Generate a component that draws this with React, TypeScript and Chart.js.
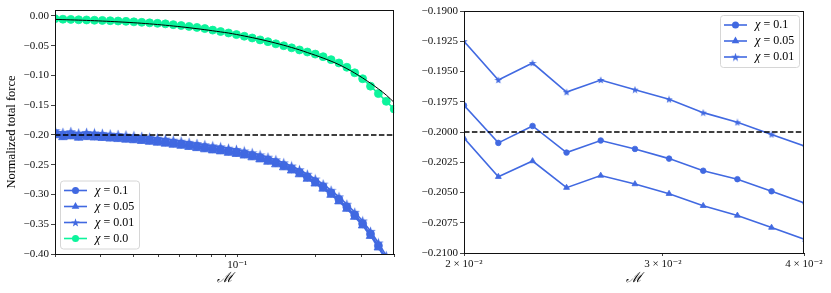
import React, { useEffect, useRef } from "react";
import { Chart, registerables } from "chart.js";
Chart.register(...registerables);

// ---------- data ----------
const M = [
  0.02, 0.02145, 0.023, 0.02465, 0.02643, 0.02834, 0.03038, 0.03257, 0.03492, 0.03744,
  0.04014, 0.04303, 0.04614, 0.04946, 0.05303, 0.05685, 0.06095, 0.06535, 0.07006, 0.07511,
  0.08053, 0.08633, 0.09261, 0.09929, 0.10645, 0.11412, 0.12235, 0.13117, 0.14063, 0.15077,
  0.16164, 0.17329, 0.18579, 0.19919, 0.21355, 0.2291, 0.2456, 0.2633, 0.2823, 0.3027,
  0.3245, 0.3479, 0.373, 0.4,
];

const chi01 = [
  -0.1978, -0.2009, -0.1995, -0.2017, -0.2007, -0.2014, -0.2022, -0.2032, -0.2039, -0.2049,
  -0.2059, -0.2071, -0.2085, -0.21, -0.2116, -0.2134, -0.2152, -0.2171, -0.2191, -0.2211,
  -0.223, -0.2246, -0.227, -0.2289, -0.2316, -0.2346, -0.2381, -0.242, -0.2464, -0.2514,
  -0.2568, -0.2631, -0.2706, -0.2786, -0.2872, -0.2976, -0.3086, -0.3211, -0.3346, -0.3491,
  -0.3666, -0.3861, -0.4076, -0.4306,
];

const chi005 = [
  -0.2005, -0.2037, -0.2024, -0.2046, -0.2036, -0.2043, -0.2051, -0.2061, -0.2069, -0.2079,
  -0.2089, -0.2101, -0.2115, -0.213, -0.2146, -0.2164, -0.2182, -0.2201, -0.2221, -0.2241,
  -0.226, -0.2276, -0.23, -0.2319, -0.2346, -0.2376, -0.2411, -0.245, -0.2494, -0.2544,
  -0.2598, -0.2661, -0.2736, -0.2816, -0.2902, -0.3006, -0.3116, -0.3241, -0.3376, -0.3521,
  -0.3696, -0.3891, -0.4106, -0.4336,
];

const chi001 = [
  -0.1925, -0.1957, -0.1943, -0.1967, -0.1957, -0.1965, -0.1973, -0.1984, -0.1992, -0.2002,
  -0.2012, -0.2024, -0.2038, -0.2053, -0.2069, -0.2087, -0.2105, -0.2124, -0.2144, -0.2164,
  -0.2183, -0.2199, -0.2223, -0.2242, -0.2269, -0.2299, -0.2334, -0.2373, -0.2417, -0.2467,
  -0.2521, -0.2584, -0.2659, -0.2739, -0.2825, -0.2929, -0.3039, -0.3164, -0.3299, -0.3444,
  -0.3619, -0.3814, -0.4029, -0.4259,
];

const chi00 = [
  -0.0045, -0.0055, -0.0058, -0.0064, -0.0067, -0.0072, -0.0075, -0.008, -0.0085, -0.0091,
  -0.0099, -0.0107, -0.0116, -0.0124, -0.0133, -0.0146, -0.0161, -0.0176, -0.0193, -0.0212,
  -0.0238, -0.0262, -0.0286, -0.0313, -0.0341, -0.037, -0.0402, -0.0432, -0.0468, -0.05,
  -0.0536, -0.0571, -0.0606, -0.0641, -0.0684, -0.0734, -0.079, -0.0862, -0.0955, -0.1055,
  -0.118, -0.1305, -0.1435, -0.1565,
];

const theory = [
  -0.0058, -0.0062, -0.0066, -0.007, -0.0075, -0.008, -0.0086, -0.0092, -0.0099, -0.0106,
  -0.0114, -0.0123, -0.0133, -0.0144, -0.0156, -0.0169, -0.0183, -0.0198, -0.0214, -0.0231,
  -0.0249, -0.0268, -0.0287, -0.0311, -0.0337, -0.0364, -0.0393, -0.0424, -0.0457, -0.0492,
  -0.053, -0.057, -0.0615, -0.066, -0.0708, -0.076, -0.0818, -0.0885, -0.096, -0.1042,
  -0.113, -0.1225, -0.133, -0.1455,
];

const seriesChi = ["0.1", "0.05", "0.01", "0.0"];
const referenceForce = -0.2;

const leftXRange = [0.02, 0.4];
const leftYRange = [-0.4, 0.01];
const rightXRange = [0.02, 0.04];
const rightYRange = [-0.21, -0.19];

const leftXTicks = [0.02, 0.03, 0.04, 0.05, 0.06, 0.07, 0.08, 0.09, 0.1, 0.2, 0.3, 0.4];
const leftXLabels: Record<string, string> = { "0.1": "10⁻¹" };
const leftYTicks = [0, -0.05, -0.1, -0.15, -0.2, -0.25, -0.3, -0.35, -0.4];
const rightXTicks = [0.02, 0.03, 0.04];
const rightXLabels: Record<string, string> = { "0.02": "2 × 10⁻²", "0.03": "3 × 10⁻²", "0.04": "4 × 10⁻²" };
const rightYTicks = [-0.19, -0.1925, -0.195, -0.1975, -0.2, -0.2025, -0.205, -0.2075, -0.21];

// ---------- styling ----------
const BLUE = "#4169E1";
const GREEN = "#0CF49C";
const FONT = '"Liberation Serif", "DejaVu Serif", serif';

function makeStar(size: number, color: string): HTMLCanvasElement {
  const c = document.createElement("canvas");
  c.width = size;
  c.height = size;
  const g = c.getContext("2d")!;
  const cx = size / 2, cy = size / 2 + size * 0.04, R = size / 2, r = R * 0.4;
  g.beginPath();
  for (let i = 0; i < 10; i++) {
    const a = -Math.PI / 2 + (i * Math.PI) / 5;
    const rr = i % 2 === 0 ? R : r;
    g.lineTo(cx + rr * Math.cos(a), cy + rr * Math.sin(a));
  }
  g.closePath();
  g.fillStyle = color;
  g.fill();
  return c;
}

const fmtMinus = (v: number, d: number) => (v < -1e-12 ? "−" : "") + Math.abs(v).toFixed(d);

type LegendEntry = { chi: string; color: string; style: string | HTMLCanvasElement; r: number };

function drawMarker(ctx: CanvasRenderingContext2D, style: string | HTMLCanvasElement, x: number, y: number, r: number, color: string) {
  ctx.save();
  ctx.fillStyle = color;
  ctx.strokeStyle = color;
  if (typeof style !== "string") {
    ctx.drawImage(style, x - style.width / 2, y - style.height / 2);
  } else if (style === "triangle") {
    ctx.beginPath();
    let a = 0;
    for (let i = 0; i < 3; i++) {
      ctx.lineTo(x + Math.sin(a) * r, y - Math.cos(a) * r);
      a += (2 * Math.PI) / 3;
    }
    ctx.closePath();
    ctx.fill();
  } else {
    ctx.beginPath();
    ctx.arc(x, y, r, 0, Math.PI * 2);
    ctx.fill();
  }
  ctx.restore();
}

function legendPlugin(entries: LegendEntry[], corner: "lowerleft" | "upperright") {
  return {
    id: "customLegend" + corner,
    afterDraw(chart: any) {
      const { ctx, chartArea } = chart;
      const rowH = 16;
      const w = 79;
      const h = entries.length * rowH + 4;
      const x0 = corner === "lowerleft" ? chartArea.left + 5 : chartArea.right - 5 - w;
      const y0 = corner === "lowerleft" ? chartArea.bottom - 5.5 - h : chartArea.top + 4;
      ctx.save();
      ctx.beginPath();
      ctx.roundRect(x0 + 0.5, y0 + 0.5, w, h, 3);
      ctx.fillStyle = "rgba(255,255,255,0.8)";
      ctx.fill();
      ctx.strokeStyle = "#d6d6d6";
      ctx.lineWidth = 1;
      ctx.stroke();
      entries.forEach((e, i) => {
        const cy = y0 + 10 + i * rowH;
        ctx.strokeStyle = e.color;
        ctx.lineWidth = 1.6;
        ctx.beginPath();
        ctx.moveTo(x0 + 4, cy);
        ctx.lineTo(x0 + 27, cy);
        ctx.stroke();
        drawMarker(ctx, e.style, x0 + 15.5, cy, e.r, e.color);
        ctx.fillStyle = "#000";
        ctx.textBaseline = "middle";
        ctx.textAlign = "left";
        ctx.font = `italic 12.5px ${FONT}`;
        ctx.fillText("χ", x0 + 35, cy);
        const cw = ctx.measureText("χ").width;
        ctx.font = `12px ${FONT}`;
        ctx.fillText(" = " + e.chi, x0 + 35 + cw, cy);
      });
      ctx.restore();
    },
  };
}

const framePlugin = {
  id: "frame",
  afterDatasetsDraw(chart: any) {
    const { ctx, chartArea: a } = chart;
    ctx.save();
    ctx.strokeStyle = "#111";
    ctx.lineWidth = 1;
    ctx.strokeRect(Math.round(a.left) + 0.5, Math.round(a.top) + 0.5, Math.round(a.right - a.left) - 1, Math.round(a.bottom - a.top));
    ctx.restore();
  },
};

function pts(ys: number[]) {
  return M.map((m, i) => ({ x: m, y: ys[i] }));
}

function buildConfig(side: "left" | "right"): any {
  const left = side === "left";
  const xr = left ? leftXRange : rightXRange;
  const yr = left ? leftYRange : rightYRange;
  const starImg = makeStar(left ? 11 : 8, BLUE);
  const rc = left ? 4 : 2.8;
  const rt = left ? 5 : 3.4;
  const line = (label: string, ys: number[], color: string, style: any, r: number, order: number) => ({
    label,
    data: pts(ys),
    borderColor: color,
    backgroundColor: color,
    borderWidth: 1.6,
    pointStyle: style,
    pointRadius: r,
    pointBorderWidth: 0.8,
    pointBorderColor: color,
    pointBackgroundColor: color,
    tension: 0,
    clip: 0,
    order,
  });
  const datasets: any[] = [
    {
      label: "ref",
      data: [
        { x: xr[0], y: referenceForce },
        { x: xr[1], y: referenceForce },
      ],
      borderColor: "#000",
      borderWidth: 1.5,
      borderDash: [5.5, 2.4],
      pointRadius: 0,
      clip: 0,
      order: 0,
    },
    line("χ = 0.1", chi01, BLUE, "circle", rc, 5),
    line("χ = 0.05", chi005, BLUE, "triangle", rt, 4),
    line("χ = 0.01", chi001, BLUE, starImg, 4, 3),
  ];
  if (left) {
    datasets.push(line("χ = 0.0", chi00, GREEN, "circle", 4, 2));
    datasets.push({
      label: "theory",
      data: pts(theory),
      borderColor: "#000",
      borderWidth: 1,
      pointRadius: 0,
      tension: 0.3,
      clip: 0,
      order: 1,
    });
  }
  const entries: LegendEntry[] = [
    { chi: seriesChi[0], color: BLUE, style: "circle", r: 3.5 },
    { chi: seriesChi[1], color: BLUE, style: "triangle", r: 4.4 },
    { chi: seriesChi[2], color: BLUE, style: makeStar(9, BLUE), r: 4 },
  ];
  if (left) entries.push({ chi: seriesChi[3], color: GREEN, style: "circle", r: 3.5 });

  const xTicks = left ? leftXTicks : rightXTicks;
  const xLabels = left ? leftXLabels : rightXLabels;
  const yTicks = left ? leftYTicks : rightYTicks;

  return {
    type: "line",
    data: { datasets },
    options: {
      animation: false,
      responsive: false,
      maintainAspectRatio: false,
      layout: { padding: left ? { top: 10, right: 4, left: 0, bottom: 0 } : { top: 11, right: 27, left: 0, bottom: 0 } },
      plugins: { legend: { display: false }, tooltip: { enabled: false } },
      scales: {
        x: {
          type: "logarithmic",
          min: xr[0],
          max: xr[1],
          afterBuildTicks: (s: any) => {
            s.ticks = xTicks.map((v) => ({ value: v }));
          },
          afterFit: (s: any) => {
            s.height = left ? 39 : 40;
          },
          ticks: {
            autoSkip: false,
            maxRotation: 0,
            padding: 2,
            color: "#111",
            font: { family: FONT, size: 11 },
            callback: (v: any) => {
              const key = String(Number(Number(v).toPrecision(3)));
              return xLabels[key] ?? "";
            },
          },
          grid: { drawOnChartArea: false, tickLength: 3, color: "#111", tickWidth: 0.8 },
          border: { color: "#111", width: 1 },
          title: {
            display: true,
            text: "ℳ",
            color: "#000",
            font: { family: FONT, size: 14, style: "italic" },
            padding: { top: 0, bottom: 6 },
          },
        },
        y: {
          type: "linear",
          min: yr[0],
          max: yr[1],
          afterBuildTicks: (s: any) => {
            s.ticks = yTicks.map((v) => ({ value: v }));
          },
          afterFit: (s: any) => {
            s.width = left ? 55 : 59;
          },
          ticks: {
            autoSkip: false,
            padding: 2,
            color: "#111",
            font: { family: FONT, size: 11 },
            callback: (v: any) => fmtMinus(Number(v), left ? 2 : 4),
          },
          grid: { drawOnChartArea: false, tickLength: 4, color: "#111", tickWidth: 0.8 },
          border: { color: "#111", width: 1 },
          title: left
            ? {
                display: true,
                text: "Normalized total force",
                color: "#000",
                font: { family: FONT, size: 12.5 },
                padding: { top: 4, bottom: 0 },
              }
            : { display: false },
        },
      },
    },
    plugins: [framePlugin, legendPlugin(entries, left ? "lowerleft" : "upperright")],
  };
}

function Panel({ side, x, w }: { side: "left" | "right"; x: number; w: number }) {
  const ref = useRef<HTMLCanvasElement>(null);
  useEffect(() => {
    if (!ref.current) return;
    const chart = new Chart(ref.current, buildConfig(side));
    return () => chart.destroy();
  }, [side]);
  return (
    <canvas
      ref={ref}
      width={w}
      height={293}
      style={{ position: "absolute", left: x, top: 0, width: w, height: 293 }}
    />
  );
}

export default function App() {
  return (
    <div style={{ position: "fixed", left: 0, top: 0, width: 831, height: 293, background: "#fff", overflow: "hidden" }}>
      <Panel side="left" x={0} w={400} />
      <Panel side="right" x={405} w={426} />
    </div>
  );
}
